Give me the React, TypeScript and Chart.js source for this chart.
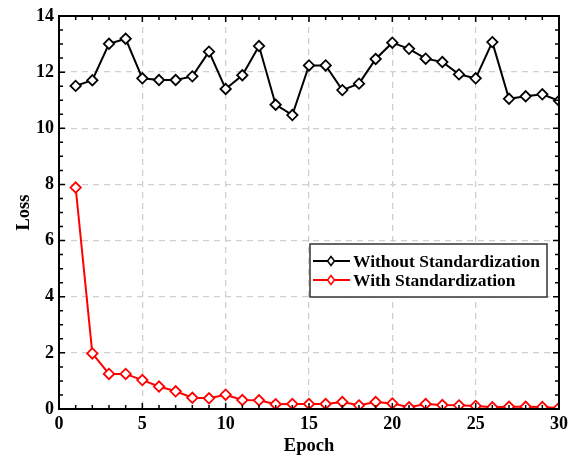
import React, { useEffect, useRef } from "react";
import { Chart, registerables } from "chart.js";

Chart.register(...registerables);

const epochs = [1,2,3,4,5,6,7,8,9,10,11,12,13,14,15,16,17,18,19,20,21,22,23,24,25,26,27,28,29,30];
const withoutStd = [11.51,11.71,13.01,13.19,11.78,11.72,11.72,11.85,12.73,11.40,11.89,12.93,10.84,10.47,12.24,12.24,11.36,11.59,12.47,13.05,12.83,12.48,12.36,11.92,11.78,13.07,11.05,11.14,11.21,10.98];
const withStd = [7.89,1.98,1.25,1.25,1.03,0.80,0.63,0.40,0.38,0.51,0.32,0.31,0.17,0.18,0.18,0.18,0.25,0.13,0.25,0.20,0.06,0.18,0.14,0.13,0.11,0.06,0.08,0.08,0.07,0.04];
const seriesLabels = ["Without Standardization", "With Standardization"];
const seriesColors = ["#000000", "#ff0000"];
const xTitle = "Epoch";
const yTitle = "Loss";

const FONT = "'Liberation Serif', 'Times New Roman', serif";

const framePlugin = {
  id: "frame",
  afterDraw(chart: any) {
    const { ctx, chartArea: a, scales } = chart;
    const xs = scales.x, ys = scales.y;
    ctx.save();
    ctx.strokeStyle = "#000";
    ctx.lineWidth = 1.5;
    ctx.beginPath();
    for (let v = 0; v <= 30; v += 1) {
      const px = xs.getPixelForValue(v);
      const len = v % 5 === 0 ? 6 : 4;
      ctx.moveTo(px, a.bottom); ctx.lineTo(px, a.bottom - len);
      ctx.moveTo(px, a.top); ctx.lineTo(px, a.top + len);
    }
    for (let v = 0; v <= 14; v += 0.5) {
      const py = ys.getPixelForValue(v);
      const len = v % 2 === 0 ? 6 : 4;
      ctx.moveTo(a.left, py); ctx.lineTo(a.left + len, py);
      ctx.moveTo(a.right, py); ctx.lineTo(a.right - len, py);
    }
    ctx.stroke();
    ctx.lineWidth = 2;
    ctx.strokeRect(a.left, a.top, a.right - a.left, a.bottom - a.top);

    // legend
    const bx = 310, by = 244, bw = 237, bh = 53;
    ctx.fillStyle = "#fff";
    ctx.fillRect(bx, by, bw, bh);
    ctx.strokeStyle = "#333";
    ctx.lineWidth = 1.5;
    ctx.strokeRect(bx, by, bw, bh);
    ctx.font = `bold 17.5px ${FONT}`;
    ctx.textBaseline = "middle";
    seriesLabels.forEach((lab, i) => {
      const cy = by + 17 + i * 19;
      ctx.strokeStyle = seriesColors[i];
      ctx.lineWidth = 2;
      ctx.beginPath();
      ctx.moveTo(bx + 3, cy); ctx.lineTo(bx + 40, cy);
      ctx.stroke();
      const mx = bx + 21;
      ctx.beginPath();
      ctx.moveTo(mx, cy - 4.5); ctx.lineTo(mx + 3.5, cy); ctx.lineTo(mx, cy + 4.5); ctx.lineTo(mx - 3.5, cy); ctx.closePath();
      ctx.fillStyle = "#fff";
      ctx.fill();
      ctx.lineWidth = 1.5;
      ctx.stroke();
      ctx.fillStyle = "#000";
      ctx.fillText(lab, bx + 43, cy + 1);
    });
    ctx.restore();
  },
};

export default function App() {
  const ref = useRef<HTMLCanvasElement>(null);
  useEffect(() => {
    if (!ref.current) return;
    const gridColor = (c: any) =>
      c.tick && (c.index === 0 || c.index === c.chart.scales[c.scale.id].ticks.length - 1) ? "rgba(0,0,0,0)" : "#cfcfcf";
    const tickFont = { family: FONT, size: 18, weight: "bold" };
    const titleFont = { family: FONT, size: 18.5, weight: "bold" };
    const chart = new Chart(ref.current, {
      type: "line",
      data: {
        labels: epochs,
        datasets: [withoutStd, withStd].map((d, i) => ({
          label: seriesLabels[i],
          data: d.map((y, j) => ({ x: epochs[j], y })),
          borderColor: seriesColors[i],
          backgroundColor: "#fff",
          pointBackgroundColor: "#fff",
          pointBorderColor: seriesColors[i],
          pointStyle: "rectRot",
          pointRadius: 5.2,
          pointBorderWidth: 1.8,
          borderWidth: 2,
          tension: 0,
        })),
      },
      options: {
        animation: false,
        responsive: false,
        maintainAspectRatio: false,
        layout: { padding: { left: 0, right: 17, top: 16, bottom: 0 } },
        plugins: { legend: { display: false }, tooltip: { enabled: false } },
        scales: {
          x: {
            type: "linear",
            min: 0,
            max: 30,
            ticks: { stepSize: 5, color: "#000", font: tickFont, padding: 5, maxRotation: 0 },
            grid: { color: gridColor, lineWidth: 1.3, drawTicks: false, tickLength: 0 },
            border: { display: true, color: "#000", width: 2, dash: [6, 5] },
            title: { display: true, text: xTitle, color: "#000", font: titleFont, padding: { top: 0, bottom: 1 } },
            afterFit: (s: any) => { s.height = 49; },
          },
          y: {
            min: 0,
            max: 14,
            ticks: { stepSize: 2, color: "#000", font: tickFont, padding: 5 },
            grid: { color: gridColor, lineWidth: 1.3, drawTicks: false, tickLength: 0 },
            border: { display: true, color: "#000", width: 2, dash: [6, 5] },
            title: { display: true, text: yTitle, color: "#000", font: titleFont, padding: { top: 13, bottom: 0 } },
            afterFit: (s: any) => { s.width = 59; },
          },
        },
      } as any,
      plugins: [framePlugin],
    });
    return () => chart.destroy();
  }, []);
  return (
    <div style={{ position: "fixed", left: 0, top: 0, width: 576, height: 458, background: "#fff" }}>
      <canvas ref={ref} width={576} height={458} style={{ width: 576, height: 458, display: "block" }} />
    </div>
  );
}
